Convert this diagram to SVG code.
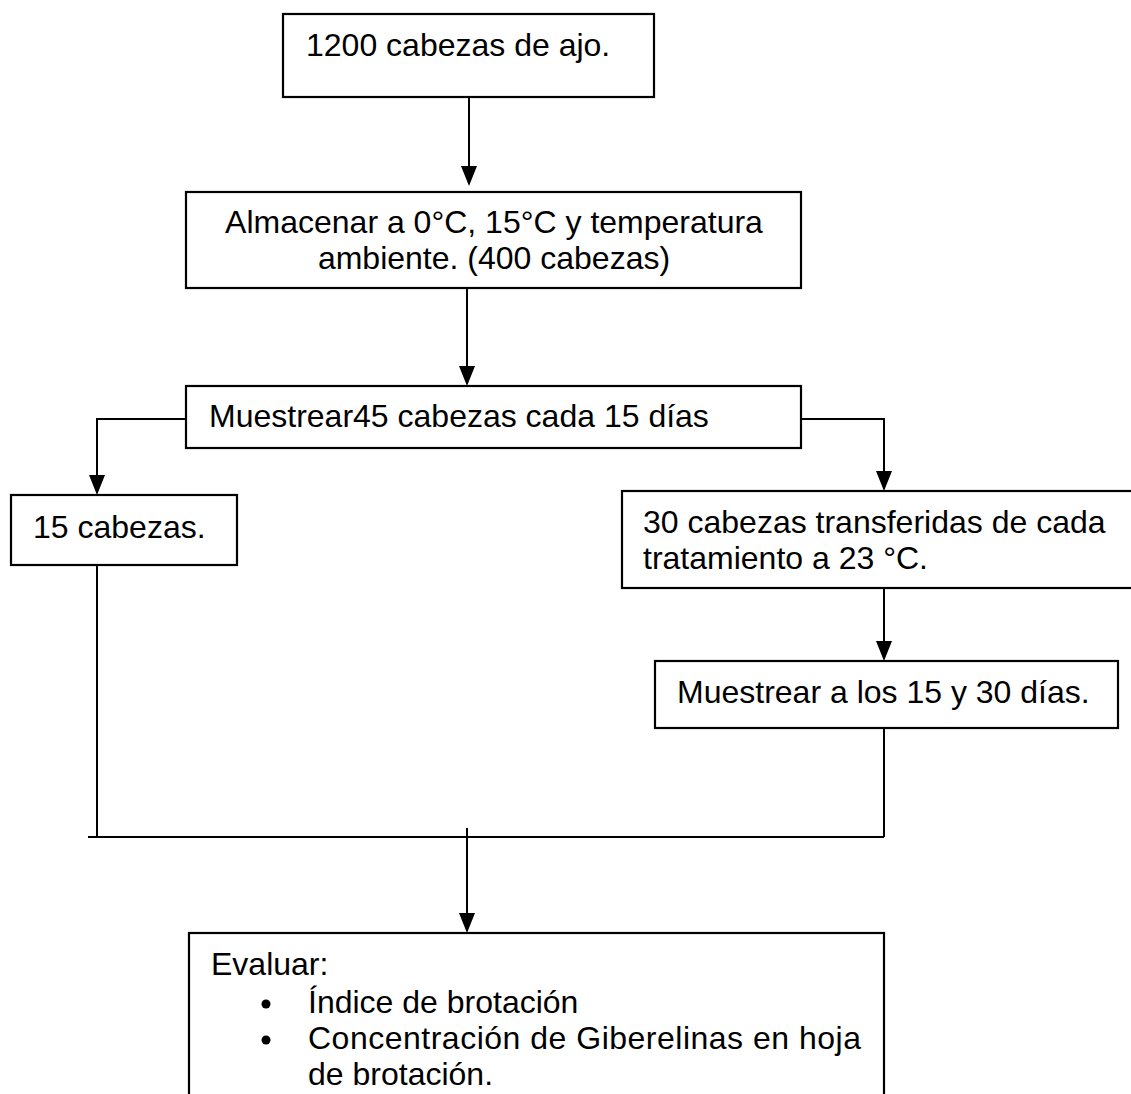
<svg xmlns="http://www.w3.org/2000/svg" width="1131" height="1094" viewBox="0 0 1131 1094">
<style>
.box{fill:#fff;stroke:#000;stroke-width:2.2}
.t{font-family:"Liberation Sans",Arial,sans-serif;font-size:32px;fill:#000}
.c{fill:none;stroke:#000;stroke-width:2}
</style>
<rect width="1131" height="1094" fill="#fff"/>
<g id="connectors">
<path class="c" d="M469,97 V184"/>
<path class="c" d="M467,288 V384"/>
<path class="c" d="M185,419 H97 V493"/>
<path class="c" d="M801,419 H884 V489"/>
<path class="c" d="M884,588 V659"/>
<path class="c" d="M97,565 V837"/>
<path class="c" d="M884,728 V837"/>
<path class="c" d="M88,837 H884"/>
<path class="c" d="M467,828 V931"/>
<g fill="#000">
<path d="M461,166 L477,166 L469,186 Z"/>
<path d="M459,366 L475,366 L467,386 Z"/>
<path d="M89,475 L105,475 L97,495 Z"/>
<path d="M876,471 L892,471 L884,491 Z"/>
<path d="M876,641 L892,641 L884,661 Z"/>
<path d="M459,913 L475,913 L467,933 Z"/>
</g>
</g>
<g id="n1">
<rect class="box" x="283" y="14" width="371" height="83"/>
<text class="t" x="306" y="56">1200 cabezas de ajo.</text>
</g>
<g id="n2">
<rect class="box" x="186" y="192" width="615" height="96"/>
<text class="t" x="494" y="233" text-anchor="middle">Almacenar a 0°C, 15°C y temperatura</text>
<text class="t" x="494" y="269" text-anchor="middle">ambiente. (400 cabezas)</text>
</g>
<g id="n3">
<rect class="box" x="186" y="386" width="615" height="62"/>
<text class="t" x="209" y="427">Muestrear45 cabezas cada 15 días</text>
</g>
<g id="n4">
<rect class="box" x="11" y="495" width="226" height="70"/>
<text class="t" x="33" y="538">15 cabezas.</text>
</g>
<g id="n5">
<rect class="box" x="622" y="491" width="520" height="97"/>
<text class="t" x="643" y="533">30 cabezas transferidas de cada</text>
<text class="t" x="643" y="569">tratamiento a 23 °C.</text>
</g>
<g id="n6">
<rect class="box" x="655" y="661" width="463" height="67"/>
<text class="t" x="677" y="703">Muestrear a los 15 y 30 días.</text>
</g>
<g id="n7">
<rect class="box" x="189" y="933" width="695" height="180"/>
<text class="t" x="211" y="975">Evaluar:</text>
<circle cx="266" cy="1004" r="4.5" fill="#000"/>
<text class="t" x="308" y="1013">Índice de brotación</text>
<circle cx="266" cy="1040" r="4.5" fill="#000"/>
<text class="t" x="308" y="1049" textLength="553" lengthAdjust="spacing">Concentración de Giberelinas en hoja</text>
<text class="t" x="308" y="1085">de brotación.</text>
</g>
</svg>
